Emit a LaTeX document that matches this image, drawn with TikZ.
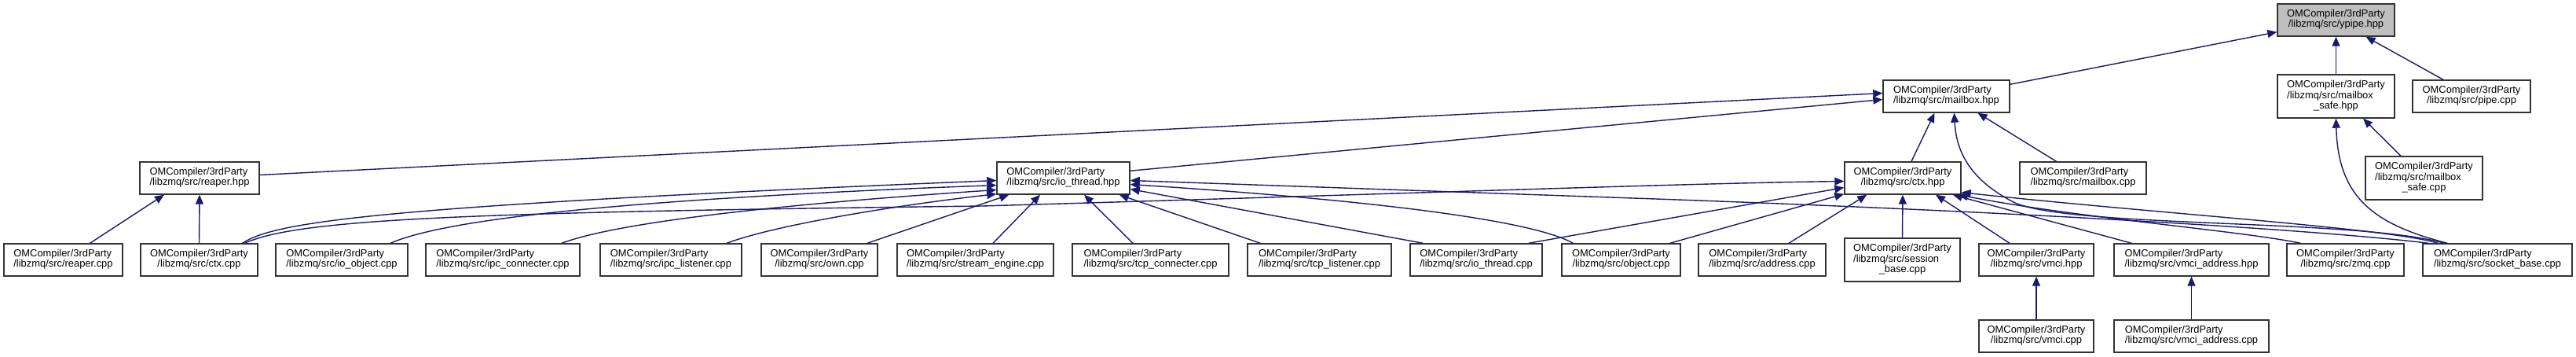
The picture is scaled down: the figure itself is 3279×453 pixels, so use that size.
\documentclass[tikz,border=0pt]{standalone}
\usepackage{fontspec}
\setmainfont{Liberation Sans}
\usetikzlibrary{arrows.meta,calc}
\definecolor{edgecol}{HTML}{191970}
\definecolor{boxgray}{HTML}{BFBFBF}
\definecolor{boxcol}{HTML}{333333}
\newcommand\twol[2]{\begin{tabular}{@{}l@{}}#1\\\multicolumn{1}{@{}c@{}}{#2}\end{tabular}}
\newcommand\threel[3]{\begin{tabular}{@{}l@{}}#1\\#2\\\multicolumn{1}{@{}c@{}}{#3}\end{tabular}}
\begin{document}
\begin{tikzpicture}[x=1pt,y=-1pt,
  box/.style={draw=boxcol, line width=1.4pt, fill=white, inner sep=0pt, minimum height=41pt,
    font=\fontsize{12.9}{13.4}\selectfont},
  tall/.style={minimum height=55pt},
  edge/.style={draw=edgecol, line width=1.4pt, -{Triangle[length=12pt,width=10pt]}}]
\fill[white] (0,0) rectangle (3279,453);
\useasboundingbox (0,0) rectangle (3279,453);
% row 0
\node[box, fill=boxgray, minimum width=149pt] (ypipe) at (2973.5,25.5) {\twol{OMCompiler/3rdParty}{/libzmq/src/ypipe.hpp}};
% row 1
\node[box, minimum width=161pt] (mbxhpp) at (2477.5,122.5) {\twol{OMCompiler/3rdParty}{/libzmq/src/mailbox.hpp}};
\node[box, tall, minimum width=149pt] (mbxsafehpp) at (2973.5,122.5) {\threel{OMCompiler/3rdParty}{/libzmq/src/mailbox}{\_safe.hpp}};
\node[box, minimum width=150pt] (pipecpp) at (3146,122.5) {\twol{OMCompiler/3rdParty}{/libzmq/src/pipe.cpp}};
% row 2
\node[box, minimum width=152pt] (reaperhpp) at (254,226.5) {\twol{OMCompiler/3rdParty}{/libzmq/src/reaper.hpp}};
\node[box, minimum width=169pt] (iothreadhpp) at (1353.5,226.5) {\twol{OMCompiler/3rdParty}{/libzmq/src/io\_thread.hpp}};
\node[box, minimum width=148pt] (ctxhpp) at (2422,226.5) {\twol{OMCompiler/3rdParty}{/libzmq/src/ctx.hpp}};
\node[box, minimum width=161pt] (mbxcpp) at (2651.5,226.5) {\twol{OMCompiler/3rdParty}{/libzmq/src/mailbox.cpp}};
\node[box, tall, minimum width=149pt] (mbxsafecpp) at (3085.5,226.5) {\threel{OMCompiler/3rdParty}{/libzmq/src/mailbox}{\_safe.cpp}};
% row 3
\node[box, minimum width=151pt] (reapercpp) at (80.5,330.5) {\twol{OMCompiler/3rdParty}{/libzmq/src/reaper.cpp}};
\node[box, minimum width=149pt] (ctxcpp) at (253.5,330.5) {\twol{OMCompiler/3rdParty}{/libzmq/src/ctx.cpp}};
\node[box, minimum width=168pt] (ioobject) at (435,330.5) {\twol{OMCompiler/3rdParty}{/libzmq/src/io\_object.cpp}};
\node[box, minimum width=196pt] (ipcconn) at (640,330.5) {\twol{OMCompiler/3rdParty}{/libzmq/src/ipc\_connecter.cpp}};
\node[box, minimum width=180pt] (ipclist) at (854,330.5) {\twol{OMCompiler/3rdParty}{/libzmq/src/ipc\_listener.cpp}};
\node[box, minimum width=148pt] (own) at (1043,330.5) {\twol{OMCompiler/3rdParty}{/libzmq/src/own.cpp}};
\node[box, minimum width=199pt] (streameng) at (1241.5,330.5) {\twol{OMCompiler/3rdParty}{/libzmq/src/stream\_engine.cpp}};
\node[box, minimum width=199pt] (tcpconn) at (1464.5,330.5) {\twol{OMCompiler/3rdParty}{/libzmq/src/tcp\_connecter.cpp}};
\node[box, minimum width=183pt] (tcplist) at (1679.5,330.5) {\twol{OMCompiler/3rdParty}{/libzmq/src/tcp\_listener.cpp}};
\node[box, minimum width=168pt] (iothreadcpp) at (1879,330.5) {\twol{OMCompiler/3rdParty}{/libzmq/src/io\_thread.cpp}};
\node[box, minimum width=151pt] (objectcpp) at (2063.5,330.5) {\twol{OMCompiler/3rdParty}{/libzmq/src/object.cpp}};
\node[box, minimum width=162pt] (addresscpp) at (2243,330.5) {\twol{OMCompiler/3rdParty}{/libzmq/src/address.cpp}};
\node[box, tall, minimum width=147pt] (sessionbase) at (2421.5,330.5) {\threel{OMCompiler/3rdParty}{/libzmq/src/session}{\_base.cpp}};
\node[box, minimum width=146pt] (vmcihpp) at (2592,330.5) {\twol{OMCompiler/3rdParty}{/libzmq/src/vmci.hpp}};
\node[box, minimum width=197pt] (vmciaddrhpp) at (2789.5,330.5) {\twol{OMCompiler/3rdParty}{/libzmq/src/vmci\_address.hpp}};
\node[box, minimum width=149pt] (zmqcpp) at (2985.5,330.5) {\twol{OMCompiler/3rdParty}{/libzmq/src/zmq.cpp}};
\node[box, minimum width=190pt] (socketbase) at (3179,330.5) {\twol{OMCompiler/3rdParty}{/libzmq/src/socket\_base.cpp}};
% row 4
\node[box, minimum width=146pt] (vmcicpp) at (2592,427.5) {\twol{OMCompiler/3rdParty}{/libzmq/src/vmci.cpp}};
\node[box, minimum width=197pt] (vmciaddrcpp) at (2789.5,427.5) {\twol{OMCompiler/3rdParty}{/libzmq/src/vmci\_address.cpp}};
% edges into ypipe
\draw[edge] ($(mbxhpp.north east)+(0,6)$) -- ($(ypipe.south west)+(0,-6)$);
\draw[edge] (mbxsafehpp.north) -- (ypipe.south);
\draw[edge] ($(pipecpp.north)+(-36,0)$) -- ($(ypipe.south)+(38,0)$);
% edges into mailbox.hpp
\draw[edge] ($(reaperhpp.east)+(0,-4)$) -- ($(mbxhpp.west)+(0,-4)$);
\draw[edge] ($(iothreadhpp.north east)+(0,12)$) -- ($(mbxhpp.west)+(0,4)$);
\draw[edge] ($(ctxhpp.north)+(11,0)$) -- ($(mbxhpp.south)+(-15,0)$);
\draw[edge] ($(mbxcpp.north)+(-34,0)$) -- ($(mbxhpp.south)+(40,0)$);
\draw[edge] ($(socketbase.north west)+(28,0)$) .. controls (3000,278) and (2640,290) .. (2565,258) .. controls (2505,228) and (2490,190) .. ($(mbxhpp.south)+(10,0)$);
% edges into mailbox_safe.hpp
\draw[edge] ($(mbxsafecpp.north)+(-29.5,0)$) -- ($(mbxsafehpp.south)+(34.5,0)$);
\draw[edge] ($(socketbase.north west)+(32,0)$) .. controls (3020,285) and (2976,250) .. (mbxsafehpp.south);
% edges into reaper.hpp
\draw[edge] ($(reapercpp.north)+(34,0)$) -- ($(reaperhpp.south)+(-45,0)$);
\draw[edge] (ctxcpp.north) -- (reaperhpp.south);
% edges into io_thread.hpp
\draw[edge] ($(ctxcpp.north)+(55,0)$) .. controls (350,282) and (480,262) .. ($(iothreadhpp.west)+(0,3)$);
\draw[edge] ($(ioobject.north)+(62,0)$) .. controls (560,282) and (750,255) .. ($(iothreadhpp.west)+(0,9)$);
\draw[edge] ($(ipcconn.north)+(75,0)$) .. controls (780,285) and (960,262) .. ($(iothreadhpp.west)+(0,15)$);
\draw[edge] ($(ipclist.north)+(71,0)$) .. controls (990,285) and (1150,260) .. ($(iothreadhpp.south west)+(0,-1)$);
\draw[edge] ($(own.north)+(61,0)$) -- ($(iothreadhpp.south west)+(16,0)$);
\draw[edge] ($(streameng.north)+(22.5,0)$) -- ($(iothreadhpp.south)+(-29.5,0)$);
\draw[edge] ($(tcpconn.north)+(-22.5,0)$) -- ($(iothreadhpp.south)+(26.5,0)$);
\draw[edge] ($(tcplist.north west)+(17,0)$) -- ($(iothreadhpp.south east)+(-14,0)$);
\draw[edge] ($(iothreadcpp.north west)+(17,0)$) -- ($(iothreadhpp.east)+(0,14)$);
\draw[edge] ($(objectcpp.north west)+(15,0)$) .. controls (1960,285) and (1800,258) .. ($(iothreadhpp.east)+(0,8)$);
\draw[edge] ($(socketbase.north west)+(8,0)$) .. controls (2950,292) and (2550,268) .. (2050,251) -- ($(iothreadhpp.east)+(0,3)$);
% edges into ctx.hpp
\draw[edge] ($(ctxcpp.north)+(58,0)$) .. controls (380,278) and (600,270) .. (1250,262) .. controls (1800,246) and (2150,233) .. ($(ctxhpp.west)+(0,4)$);
\draw[edge] ($(iothreadcpp.north east)+(-18,0)$) -- ($(ctxhpp.west)+(0,12)$);
\draw[edge] ($(objectcpp.north east)+(-14,0)$) -- ($(ctxhpp.south west)+(0,-1)$);
\draw[edge] ($(addresscpp.north)+(34,0)$) -- ($(ctxhpp.south west)+(29,0)$);
\draw[edge] (sessionbase.north) -- (ctxhpp.south);
\draw[edge] ($(vmcihpp.north)+(-34,0)$) -- ($(ctxhpp.south)+(42,0)$);
\draw[edge] ($(vmciaddrhpp.north west)+(23,0)$) -- ($(ctxhpp.south east)+(-11,0)$);
\draw[edge] ($(zmqcpp.north west)+(18,0)$) .. controls (2850,293) and (2650,278) .. ($(ctxhpp.south east)+(-4,0)$);
\draw[edge] ($(socketbase.north west)+(20,0)$) .. controls (3040,290) and (2750,272) .. ($(ctxhpp.south east)+(0,-3)$);
% vmci
\draw[edge] (vmcicpp.north) -- (vmcihpp.south);
\draw[edge] (vmciaddrcpp.north) -- (vmciaddrhpp.south);
\end{tikzpicture}
\end{document}
